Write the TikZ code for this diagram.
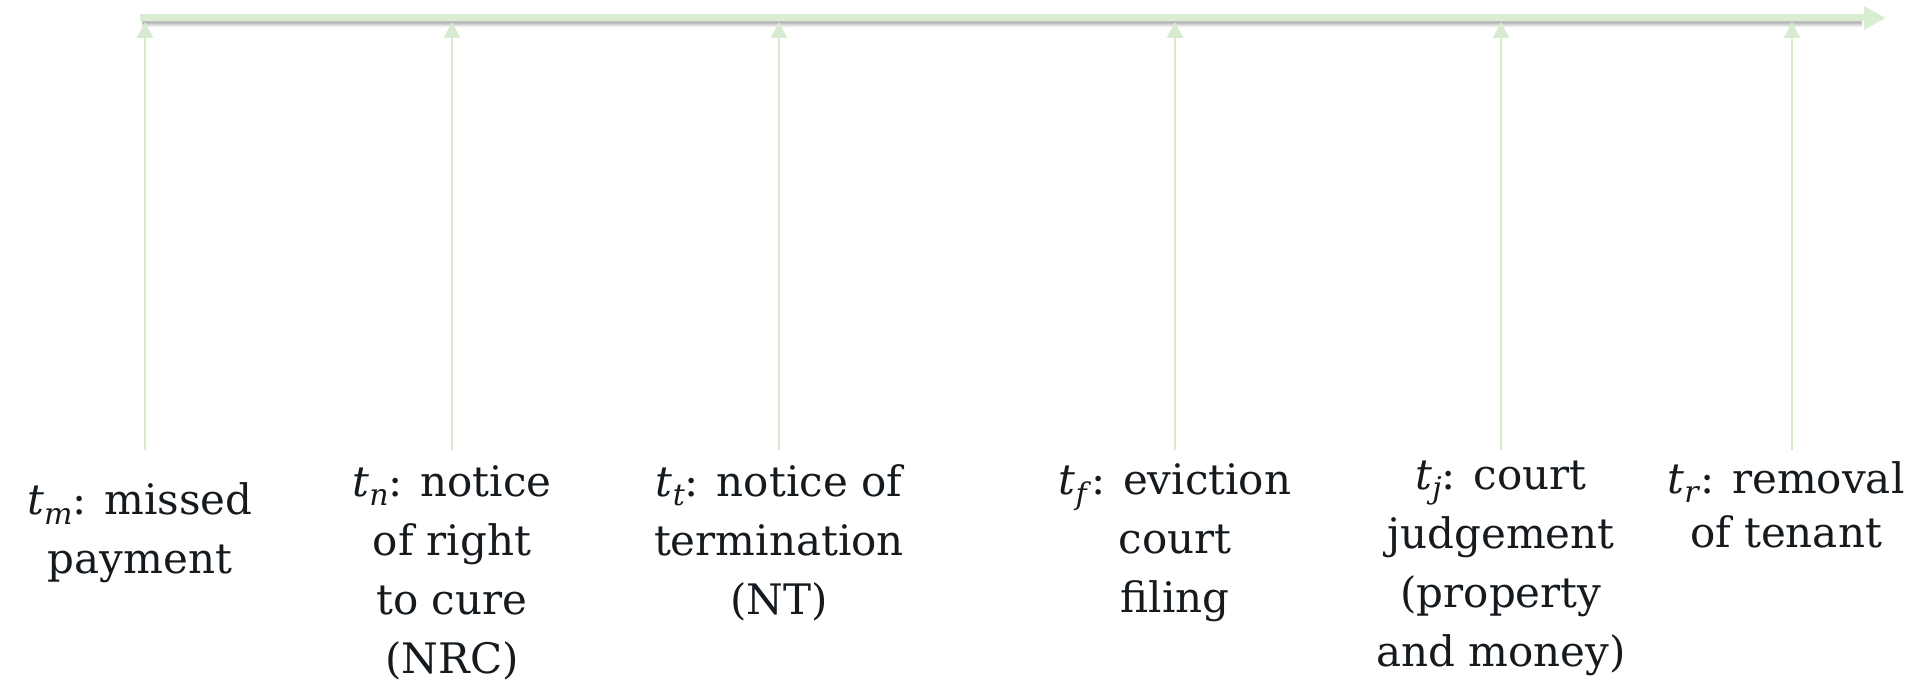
\documentclass[tikz,border=0pt]{standalone}
\usepackage{fontspec}
\setmainfont{DejaVu Serif}
\usetikzlibrary{arrows.meta}
\definecolor{axisgreen}{HTML}{D9EDD3}
\definecolor{linegreen}{HTML}{D6EBD0}
\definecolor{txt}{HTML}{151A1F}
\newcommand\tvar[1]{\textit{t}\raisebox{-0.22em}{\fontsize{30}{30}\selectfont\textit{#1}}}
\tikzset{
  lbl/.style={align=center, text=txt, font=\fontsize{42}{59}\selectfont, inner sep=0pt},
  tick/.style={draw=linegreen, line width=2.5pt, -{Triangle[length=16pt,width=16pt]}},
  axisline/.style={draw=axisgreen, line width=7pt, -{Triangle[length=22pt,width=22pt]}}
}
\begin{document}
\begin{tikzpicture}[x=1pt,y=-1pt]
\useasboundingbox (0,0) rectangle (1915,682);
% axis coordinates
\coordinate (s) at (140,18);
\coordinate (e) at (1886,18);
% soft shadow
\foreach \o/\op in {3/0.06,4/0.08,5/0.08,6/0.06,7/0.04,8/0.02}{
  \draw[line width=5pt, black, opacity=\op] (142,18+\o) -- (1862,18+\o);
}
\draw[axisline] (s) -- (e);
% ticks
\foreach \i/\x in {1/145,2/452,3/779,4/1175,5/1501,6/1792}{
  \coordinate (b\i) at (\x,450);
  \coordinate (a\i) at (\x,22);
  \draw[tick] (b\i) -- (a\i);
}
% labels
\node[lbl] (lm) at (140,533) {\tvar{m}: missed\\payment};
\node[lbl] (ln) at (452,573) {\tvar{n}: notice\\of right\\to cure\\(NRC)};
\node[lbl] (lt) at (779,543) {\tvar{t}: notice of\\termination\\(NT)};
\node[lbl] (lf) at (1175,543) {\tvar{f}: eviction\\court\\filing};
\node[lbl] (lj) at (1501,568) {\tvar{j}: court\\judgement\\(property\\and money)};
\node[lbl, font=\fontsize{42}{54}\selectfont] (lr) at (1786,505) {\tvar{r}: removal\\of tenant};
\end{tikzpicture}
\end{document}
